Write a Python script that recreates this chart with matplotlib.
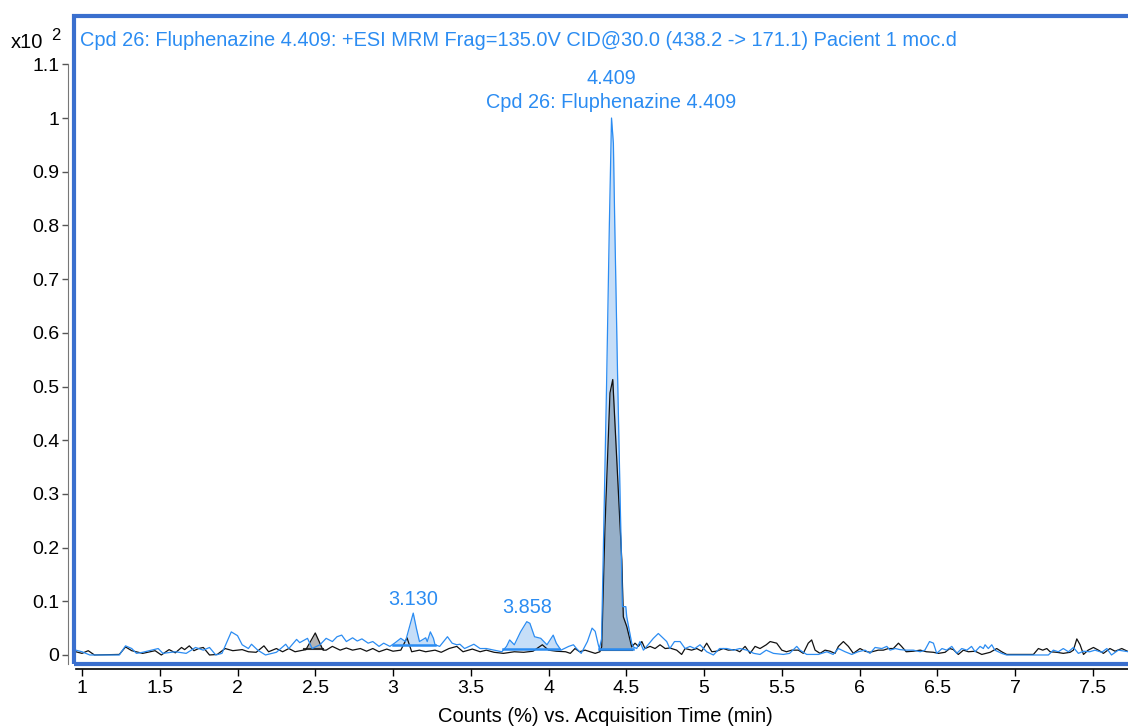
import numpy as np
import matplotlib.pyplot as plt
from matplotlib.patches import Rectangle

plt.rcParams['font.family'] = ['Liberation Sans', 'DejaVu Sans']

# Blue trace: Fluphenazine MRM (438.2 -> 171.1), counts in x10^2
blue_t = [0.96, 1.00, 1.05, 1.24, 1.28, 1.32, 1.35, 1.39, 1.49, 1.52, 1.60, 1.67,
          1.73, 1.78, 1.82, 1.86, 1.90, 1.96, 2.00, 2.03, 2.07, 2.09, 2.13, 2.18,
          2.25, 2.31, 2.33, 2.38, 2.40, 2.45, 2.48, 2.53, 2.57, 2.61, 2.64, 2.67,
          2.70, 2.74, 2.77, 2.80, 2.84, 2.87, 2.91, 2.94, 2.98, 3.01, 3.05, 3.08,
          3.13, 3.15, 3.17, 3.21, 3.22, 3.24, 3.26, 3.27, 3.30, 3.35, 3.38, 3.41,
          3.43, 3.46, 3.52, 3.56, 3.60, 3.65, 3.70, 3.73, 3.75, 3.78, 3.82, 3.86,
          3.88, 3.91, 3.95, 3.99, 4.03, 4.05, 4.08, 4.13, 4.16, 4.18, 4.21, 4.25,
          4.28, 4.30, 4.32, 4.327, 4.341, 4.373, 4.391, 4.405, 4.417, 4.426, 4.444,
          4.475, 4.497, 4.503, 4.535, 4.545, 4.567, 4.588, 4.61, 4.64, 4.674, 4.706,
          4.728, 4.76, 4.78, 4.81, 4.846, 4.878, 4.91, 4.94, 4.974, 5.017, 5.06,
          5.10, 5.146, 5.19, 5.23, 5.275, 5.32, 5.36, 5.40, 5.446, 5.51, 5.55,
          5.596, 5.617, 5.66, 5.735, 5.79, 5.83, 5.864, 5.907, 5.95, 5.99, 6.035,
          6.067, 6.10, 6.143, 6.175, 6.196, 6.23, 6.26, 6.30, 6.346, 6.39, 6.42,
          6.45, 6.475, 6.496, 6.53, 6.56, 6.593, 6.625, 6.657, 6.69, 6.72, 6.743,
          6.775, 6.796, 6.807, 6.828, 6.85, 6.87, 6.914, 6.946, 7.214, 7.246, 7.278,
          7.31, 7.343, 7.375, 7.407, 7.44, 7.48, 7.514, 7.557, 7.59, 7.62, 7.664, 7.73]
blue_y = [0.009, 0.006, 0.0, 0.0, 0.017, 0.012, 0.003, 0.005, 0.012, 0.003, 0.006, 0.003,
          0.014, 0.009, 0.014, 0.0, 0.003, 0.043, 0.036, 0.019, 0.012, 0.020, 0.009, 0.0,
          0.005, 0.020, 0.012, 0.029, 0.023, 0.031, 0.012, 0.019, 0.031, 0.025, 0.034, 0.037,
          0.025, 0.032, 0.026, 0.030, 0.022, 0.025, 0.016, 0.022, 0.016, 0.022, 0.031, 0.025,
          0.078, 0.050, 0.025, 0.032, 0.025, 0.043, 0.031, 0.019, 0.016, 0.034, 0.022, 0.019,
          0.020, 0.012, 0.020, 0.012, 0.012, 0.009, 0.006, 0.016, 0.028, 0.019, 0.043, 0.062,
          0.059, 0.034, 0.031, 0.019, 0.037, 0.022, 0.009, 0.016, 0.019, 0.012, 0.003, 0.025,
          0.050, 0.044, 0.019, 0.012, 0.030, 0.50, 0.80, 1.0, 0.953, 0.80, 0.52,
          0.090, 0.090, 0.071, 0.022, 0.015, 0.012, 0.025, 0.009, 0.019, 0.031, 0.040,
          0.034, 0.025, 0.012, 0.025, 0.025, 0.012, 0.016, 0.012, 0.019, 0.006, 0.0,
          0.012, 0.012, 0.009, 0.012, 0.009, 0.003, 0.001, 0.009, 0.003, 0.001, 0.003,
          0.016, 0.009, 0.001, 0.001, 0.006, 0.001, 0.012, 0.006, 0.001, 0.006, 0.009,
          0.003, 0.014, 0.012, 0.016, 0.009, 0.012, 0.010, 0.009, 0.009, 0.006, 0.009,
          0.025, 0.022, 0.003, 0.012, 0.009, 0.016, 0.003, 0.012, 0.009, 0.016, 0.006,
          0.016, 0.012, 0.019, 0.012, 0.019, 0.009, 0.003, 0.0, 0.0, 0.009, 0.006,
          0.012, 0.006, 0.014, 0.003, 0.007, 0.006, 0.009, 0.005, 0.012, 0.0, 0.009, 0.006]

# Black trace: qualifier transition
black_t = [0.96, 1.00, 1.04, 1.08, 1.24, 1.28, 1.32, 1.39, 1.47, 1.51, 1.56, 1.60,
           1.64, 1.66, 1.69, 1.72, 1.75, 1.78, 1.82, 1.87, 1.92, 1.97, 2.03, 2.07,
           2.12, 2.17, 2.20, 2.25, 2.29, 2.33, 2.37, 2.44, 2.50, 2.55, 2.57, 2.61,
           2.66, 2.70, 2.74, 2.79, 2.83, 2.87, 2.91, 2.96, 3.00, 3.05, 3.09, 3.12,
           3.17, 3.21, 3.27, 3.31, 3.36, 3.41, 3.45, 3.51, 3.56, 3.60, 3.65, 3.71,
           3.78, 3.84, 3.90, 3.96, 4.00, 4.05, 4.11, 4.14, 4.17, 4.20, 4.235, 4.267,
           4.30, 4.33, 4.342, 4.363, 4.395, 4.413, 4.439, 4.471, 4.481, 4.503, 4.535,
           4.556, 4.578, 4.60, 4.62, 4.653, 4.685, 4.717, 4.75, 4.78, 4.824, 4.856,
           4.878, 4.92, 4.953, 4.985, 5.017, 5.05, 5.08, 5.124, 5.156, 5.20, 5.23,
           5.264, 5.296, 5.328, 5.36, 5.40, 5.425, 5.467, 5.50, 5.53, 5.564, 5.606,
           5.638, 5.67, 5.692, 5.714, 5.746, 5.778, 5.81, 5.842, 5.864, 5.896, 5.928,
           5.96, 6.003, 6.035, 6.067, 6.12, 6.153, 6.185, 6.217, 6.25, 6.27, 6.30,
           6.346, 6.39, 6.43, 6.475, 6.507, 6.55, 6.58, 6.603, 6.635, 6.668, 6.70,
           6.743, 6.786, 6.84, 6.882, 6.914, 6.946, 7.118, 7.15, 7.178, 7.204, 7.225,
           7.268, 7.31, 7.354, 7.375, 7.397, 7.418, 7.44, 7.47, 7.504, 7.536, 7.568,
           7.61, 7.643, 7.686, 7.73]
black_y = [0.006, 0.003, 0.008, 0.0, 0.001, 0.015, 0.008, 0.003, 0.008, 0.0, 0.010, 0.004,
           0.014, 0.010, 0.017, 0.008, 0.012, 0.014, 0.0, 0.001, 0.012, 0.008, 0.010, 0.006,
           0.005, 0.017, 0.006, 0.012, 0.006, 0.012, 0.006, 0.010, 0.041, 0.009, 0.009, 0.016,
           0.009, 0.013, 0.009, 0.012, 0.007, 0.012, 0.006, 0.011, 0.007, 0.009, 0.032, 0.006,
           0.009, 0.006, 0.009, 0.005, 0.012, 0.016, 0.006, 0.011, 0.006, 0.009, 0.005, 0.003,
           0.006, 0.005, 0.007, 0.019, 0.009, 0.007, 0.006, 0.003, 0.012, 0.006, 0.009, 0.006,
           0.003, 0.006, 0.015, 0.239, 0.488, 0.513, 0.363, 0.177, 0.071, 0.053, 0.015,
           0.022, 0.016, 0.025, 0.012, 0.016, 0.012, 0.019, 0.012, 0.013, 0.009, 0.001,
           0.012, 0.009, 0.012, 0.007, 0.022, 0.006, 0.007, 0.012, 0.009, 0.010, 0.006,
           0.016, 0.003, 0.016, 0.012, 0.019, 0.025, 0.022, 0.009, 0.006, 0.009, 0.009,
           0.003, 0.022, 0.028, 0.009, 0.003, 0.009, 0.007, 0.003, 0.016, 0.025, 0.016,
           0.003, 0.012, 0.007, 0.005, 0.009, 0.009, 0.012, 0.012, 0.022, 0.016, 0.006,
           0.007, 0.009, 0.006, 0.005, 0.003, 0.005, 0.012, 0.010, 0.001, 0.009, 0.006,
           0.007, 0.001, 0.005, 0.012, 0.006, 0.001, 0.001, 0.012, 0.009, 0.012, 0.006,
           0.005, 0.003, 0.005, 0.009, 0.030, 0.019, 0.001, 0.009, 0.014, 0.009, 0.003,
           0.012, 0.007, 0.012, 0.006]

# Integrated peaks: (start, end, baseline)
blue_peaks = [(3.00, 3.27, 0.019), (3.71, 4.07, 0.012), (4.327, 4.546, 0.011)]
black_peaks = [(2.43, 2.55, 0.011, '#b4b4b4'), (4.33, 4.535, 0.009, '#96afc8')]

peak_labels = ['4.409', 'Cpd 26: Fluphenazine 4.409', '3.130', '3.858']
peak_label_t = [4.405, 4.405, 3.13, 3.86]
peak_label_y = [1.0745, 1.028, 0.104, 0.089]

title = ('Cpd 26: Fluphenazine 4.409: +ESI MRM Frag=135.0V CID@30.0 '
         '(438.2 -> 171.1) Pacient 1 moc.d')

blue = '#2b8cf2'
frame_blue = '#3a6fce'

W, H = 1128, 726
fig = plt.figure(figsize=(W / 100, H / 100), dpi=100)
ax = fig.add_axes([74 / W, (H - 664) / H, (1130 - 74) / W, (664 - 16) / H])
ax.set_xlim(0.9486, 7.739)
ax.set_ylim(-0.0168, 1.19)

# peak fills
for t0, t1, base in blue_peaks:
    tt = np.linspace(t0, t1, 200)
    yy = np.interp(tt, blue_t, blue_y)
    ax.fill_between(tt, base, yy, color='#c6def8', lw=0, zorder=1)
    ax.plot([t0, t1], [base, base], color=blue, lw=1.8, zorder=4)
for t0, t1, base, col in black_peaks:
    tt = np.linspace(t0, t1, 200)
    yy = np.interp(tt, black_t, black_y)
    ax.fill_between(tt, base, yy, color=col, lw=0, zorder=2)
    ax.plot([t0, t1], [base, base], color='#333333', lw=1.5, zorder=3)

ax.plot(blue_t, blue_y, color=blue, lw=0.9, zorder=4)
ax.plot(black_t, black_y, color='#111111', lw=0.9, zorder=3)

for lab, t, y in zip(peak_labels, peak_label_t, peak_label_y):
    ax.text(t, y, lab, color=blue, fontsize=14.3, ha='center', va='center')

# blue frame around plot area
ax.add_patch(Rectangle((0, 0), 1, 1, transform=ax.transAxes, fill=False,
                       ec=frame_blue, lw=3, clip_on=False, zorder=10))

for s in ['top', 'right']:
    ax.spines[s].set_visible(False)
ax.spines['left'].set_position(('outward', 4.5))
ax.spines['left'].set_color('#777777')
ax.spines['left'].set_bounds(-0.0168, 1.1)
ax.spines['bottom'].set_position(('outward', 3.6))
ax.spines['bottom'].set_color('black')
ax.spines['bottom'].set_linewidth(1.2)
ax.spines['bottom'].set_bounds(0.962, 7.739)

yt = [0, 0.1, 0.2, 0.3, 0.4, 0.5, 0.6, 0.7, 0.8, 0.9, 1.0, 1.1]
ax.set_yticks(yt)
ax.set_yticklabels(['0', '0.1', '0.2', '0.3', '0.4', '0.5', '0.6', '0.7',
                    '0.8', '0.9', '1', '1.1'])
xt = [1, 1.5, 2, 2.5, 3, 3.5, 4, 4.5, 5, 5.5, 6, 6.5, 7, 7.5]
ax.set_xticks(xt)
ax.set_xticklabels(['1', '1.5', '2', '2.5', '3', '3.5', '4', '4.5', '5',
                    '5.5', '6', '6.5', '7', '7.5'])
ax.tick_params(axis='y', length=4, width=1, color='#555555', pad=2,
               labelsize=14)
ax.tick_params(axis='x', length=5, width=1, pad=3, labelsize=14)

ax.text(80 / W, 1 - 40 / H, title, transform=fig.transFigure, color=blue,
        fontsize=14.4, ha='left', va='center')
fig.text(11 / W, 1 - 43 / H, 'x10', fontsize=14.5, ha='left', va='center')
fig.text(51 / W, 1 - 35 / H, '2', fontsize=12, ha='left', va='center')
fig.text(605 / W, 1 - 717 / H, 'Counts (%) vs. Acquisition Time (min)',
         fontsize=14.5, ha='center', va='center')

fig.savefig('out.png', dpi=100)
